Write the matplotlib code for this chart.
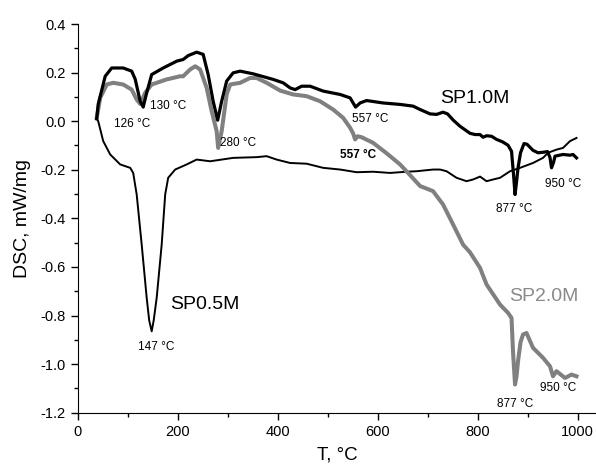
import matplotlib
matplotlib.use("Agg")
import matplotlib.pyplot as plt
from matplotlib.ticker import MultipleLocator, FormatStrFormatter

plt.rcParams['font.family'] = ['Liberation Sans', 'DejaVu Sans']
plt.rcParams['axes.unicode_minus'] = False

# SP1.0M (thick black)
t_10 = [38, 41, 55, 68, 91, 108, 115, 125, 131, 138, 148, 171, 198, 211, 221, 238, 251, 261,
        271, 280, 288, 298, 311, 325, 351, 391, 411, 425, 435, 448, 465, 491, 525, 545, 556,
        565, 578, 611, 645, 671, 685, 705, 718, 731, 740, 751, 765, 785, 795, 805, 811, 818,
        828, 838, 850, 861, 868, 872, 875, 878, 881, 886, 893, 899, 911, 921, 931, 940, 945,
        948, 952, 955, 971, 985, 991, 998]
dsc_10 = [0.01, 0.07, 0.185, 0.219, 0.219, 0.206, 0.173, 0.082, 0.058, 0.117, 0.192, 0.219,
          0.247, 0.254, 0.270, 0.284, 0.275, 0.192, 0.082, 0.004, 0.082, 0.165, 0.199, 0.206,
          0.195, 0.172, 0.158, 0.137, 0.130, 0.144, 0.144, 0.124, 0.110, 0.096, 0.058, 0.075,
          0.085, 0.075, 0.069, 0.062, 0.048, 0.030, 0.028, 0.037, 0.030, 0.005, -0.021, -0.050,
          -0.055, -0.055, -0.066, -0.060, -0.062, -0.075, -0.085, -0.099, -0.124, -0.22, -0.302,
          -0.25, -0.192, -0.13, -0.092, -0.095, -0.120, -0.130, -0.128, -0.125, -0.15, -0.192,
          -0.17, -0.144, -0.137, -0.140, -0.137, -0.151]

# SP2.0M (thick grey)
t_20 = [38, 45, 58, 71, 91, 108, 118, 125, 135, 148, 178, 205, 211, 225, 235, 245, 258, 268,
        278, 281, 288, 298, 305, 325, 345, 358, 378, 405, 431, 458, 485, 511, 531, 545, 551,
        555, 560, 568, 591, 618, 645, 665, 685, 711, 731, 751, 771, 785, 805, 818, 845, 861,
        868, 871, 875, 878, 881, 886, 891, 898, 911, 931, 945, 951, 958, 975, 988, 998]
dsc_20 = [0.014, 0.096, 0.151, 0.158, 0.151, 0.130, 0.089, 0.071, 0.117, 0.151, 0.172, 0.185,
          0.185, 0.213, 0.226, 0.213, 0.137, 0.041, -0.041, -0.110, -0.041, 0.110, 0.151, 0.158,
          0.178, 0.178, 0.158, 0.126, 0.110, 0.103, 0.082, 0.048, 0.014, -0.027, -0.050, -0.075,
          -0.062, -0.066, -0.089, -0.132, -0.178, -0.222, -0.267, -0.288, -0.343, -0.425, -0.508,
          -0.540, -0.604, -0.672, -0.755, -0.789, -0.810, -0.95, -1.084, -1.05, -0.988, -0.91,
          -0.878, -0.872, -0.933, -0.974, -1.009, -1.050, -1.029, -1.057, -1.043, -1.050]

# SP0.5M (thin black)
t_05 = [38, 41, 51, 65, 85, 105, 111, 118, 128, 138, 143, 148, 152, 158, 168, 175, 181, 195,
        218, 238, 265, 311, 358, 378, 398, 425, 458, 491, 525, 558, 591, 625, 658, 678, 711,
        725, 738, 758, 778, 791, 805, 818, 831, 845, 865, 885, 911, 931, 941, 958, 971, 985, 998]
dsc_05 = [0.01, 0.0, -0.082, -0.137, -0.178, -0.192, -0.213, -0.302, -0.508, -0.727, -0.82,
          -0.865, -0.82, -0.727, -0.508, -0.302, -0.233, -0.199, -0.178, -0.158, -0.165, -0.151,
          -0.148, -0.144, -0.158, -0.172, -0.175, -0.192, -0.199, -0.210, -0.208, -0.213, -0.208,
          -0.206, -0.199, -0.199, -0.206, -0.233, -0.247, -0.240, -0.228, -0.247, -0.240, -0.233,
          -0.206, -0.192, -0.172, -0.151, -0.130, -0.117, -0.110, -0.082, -0.069]

# peak annotations: (text, x, y, weight)
peak_labels = [("126 °C", 108, -0.011, 'normal'),
               ("130 °C", 181, 0.062, 'normal'),
               ("280 °C", 321, -0.089, 'normal'),
               ("557 °C", 586, 0.011, 'normal'),
               ("557 °C", 561, -0.141, 'bold'),
               ("877 °C", 873, -0.36, 'normal'),
               ("950 °C", 971, -0.258, 'normal'),
               ("877 °C", 875, -1.166, 'normal'),
               ("950 °C", 961, -1.098, 'normal'),
               ("147 °C", 157, -0.930, 'normal')]
series_labels = [("SP0.5M", 255, -0.755, 'black'),
                 ("SP1.0M", 795, 0.092, 'black'),
                 ("SP2.0M", 933, -0.72, '#8a8a8a')]

fig = plt.figure(figsize=(5.96, 4.69), dpi=100)
ax = fig.add_axes([0.1304, 0.12, 0.8696, 0.8288])

ax.plot(t_05, dsc_05, color='black', lw=1.4, solid_joinstyle='round')
ax.plot(t_20, dsc_20, color='#808080', lw=2.9, solid_joinstyle='round')
ax.plot(t_10, dsc_10, color='black', lw=2.3, solid_joinstyle='round')

for txt, x, y, w in peak_labels:
    ax.text(x, y, txt, ha='center', va='center', fontsize=8.5, fontweight=w)
for txt, x, y, c in series_labels:
    ax.text(x, y, txt, ha='center', va='center', fontsize=14, color=c)

ax.set_xlim(0, 1037)
ax.set_ylim(-1.2, 0.4)
ax.xaxis.set_major_locator(MultipleLocator(200))
ax.xaxis.set_minor_locator(MultipleLocator(100))
ax.yaxis.set_major_locator(MultipleLocator(0.2))
ax.yaxis.set_minor_locator(MultipleLocator(0.1))
ax.yaxis.set_major_formatter(FormatStrFormatter('%.1f'))
ax.tick_params(which='major', length=5, width=1, labelsize=10.5)
ax.tick_params(which='minor', length=3, width=1)
ax.spines['top'].set_visible(False)
ax.spines['right'].set_visible(False)
ax.set_xlabel("T, °C", fontsize=13.5, labelpad=6)
ax.set_ylabel("DSC, mW/mg", fontsize=14, labelpad=7)

fig.savefig("out.png", dpi=100)
